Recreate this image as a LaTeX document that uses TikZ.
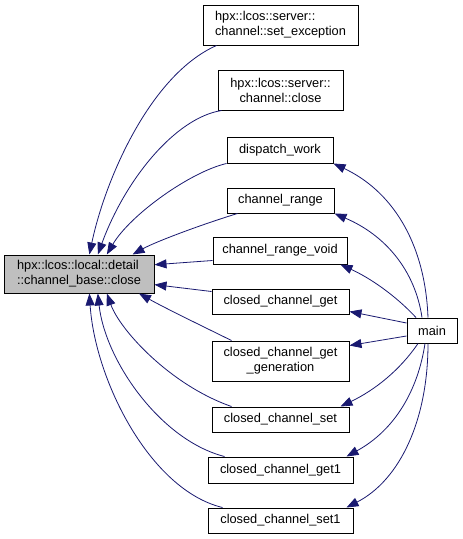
\documentclass[tikz,border=0pt]{standalone}
\usepackage{fontspec}
\setmainfont{Liberation Sans}
\usetikzlibrary{arrows.meta}
\definecolor{edgeblue}{HTML}{191970}
\definecolor{basegrey}{HTML}{BFBFBF}

\begin{document}
\begin{tikzpicture}[x=1pt,y=-1pt,>={Triangle[length=12pt,width=9pt]},
    fn/.style={draw,rectangle,line width=1pt,inner sep=1pt,align=center,
        font=\fontsize{12.8}{15}\selectfont},
    edge/.style={edgeblue,line width=0.8pt,->}]
            \useasboundingbox (0,0) rectangle (463,539);
            % the function and its callers
            \node [fn,fill=basegrey,align=left,minimum width=150pt,minimum height=38pt] (base) at (79,274) {hpx::lcos::local::detail\\::channel\_base::close};
            \node [fn,align=left,minimum width=155pt,minimum height=40pt] (sexc) at (280.5,25) {hpx::lcos::server::\\channel::set\_exception};
            \node [fn,minimum width=125pt,minimum height=40pt] (close) at (280.5,90) {hpx::lcos::server::\\channel::close};
            \node [fn,minimum width=106pt,minimum height=26pt] (dwork) at (280,150) {dispatch\_work};
            \node [fn,minimum width=107pt,minimum height=25pt] (crange) at (280.5,200.5) {channel\_range};
            \node [fn,minimum width=134pt,minimum height=27pt] (crvoid) at (280,250.5) {channel\_range\_void};
            \node [fn,minimum width=137pt,minimum height=25pt] (ccget) at (280.5,301.5) {closed\_channel\_get};
            \node [fn,minimum width=137pt,minimum height=40pt] (ccgen) at (280.5,361) {closed\_channel\_get\\\_generation};
            \node [fn,minimum width=137pt,minimum height=25pt] (ccset) at (280.5,419.5) {closed\_channel\_set};
            \node [fn,minimum width=145pt,minimum height=26pt] (ccget1) at (280.5,470) {closed\_channel\_get1};
            \node [fn,minimum width=145pt,minimum height=25pt] (ccset1) at (280.5,520.5) {closed\_channel\_set1};
            \node [fn,minimum width=50pt,minimum height=25pt] (main) at (432,330.5) {main};
            % calls into base
            \draw [edge] ([xshift=14pt]sexc.south west) .. controls (150,75) and (105,180) .. (base.62);
            \draw [edge] ([xshift=4pt]close.south west) .. controls (175,118) and (125,180) .. (base.46);
            \draw [edge] (dwork.south west) .. controls (190,172) and (130,215) .. (base.35);
            \draw [edge] ([xshift=11pt]crange.south west) .. controls (200,225) and (155,242) .. (base.20);
            \draw [edge] ([yshift=4pt]crvoid.south west) -- (base.7);
            \draw [edge] ([yshift=-3pt]ccget.north west) -- (base.-8);
            \draw [edge] ([xshift=20pt]ccgen.north west) .. controls (200,325) and (165,308) .. (base.-18);
            \draw [edge] ([xshift=20pt]ccset.north west) .. controls (170,385) and (120,330) .. (base.-35);
            \draw [edge] ([xshift=17pt]ccget1.north west) .. controls (160,440) and (105,360) .. (base.-46);
            \draw [edge] ([xshift=15pt]ccset1.north west) .. controls (150,490) and (95,380) .. (base.-62);
            % calls from main
            \draw [edge] ([xshift=-4pt]main.north) .. controls (425,240) and (390,190) .. (dwork.south east);
            \draw [edge] ([xshift=-10pt]main.north) .. controls (415,270) and (385,235) .. (crange.south east);
            \draw [edge] ([xshift=-16pt]main.north) .. controls (395,295) and (370,278) .. ([xshift=-7pt]crvoid.south east);
            \draw [edge] ([yshift=7.5pt]main.west) -- ([yshift=3pt]ccget.south east);
            \draw [edge] ([yshift=-5.5pt]main.west) -- ([yshift=-5pt]ccgen.north east);
            \draw [edge] ([xshift=-14pt]main.south) .. controls (400,370) and (375,390) .. ([xshift=-9pt]ccset.north east);
            \draw [edge] ([xshift=-7pt]main.south) .. controls (418,390) and (395,430) .. ([xshift=-7pt]ccget1.north east);
            \draw [edge] ([xshift=-4pt]main.south) .. controls (428,420) and (400,480) .. ([xshift=-7pt]ccset1.north east);
        \end{tikzpicture}
\end{document}
